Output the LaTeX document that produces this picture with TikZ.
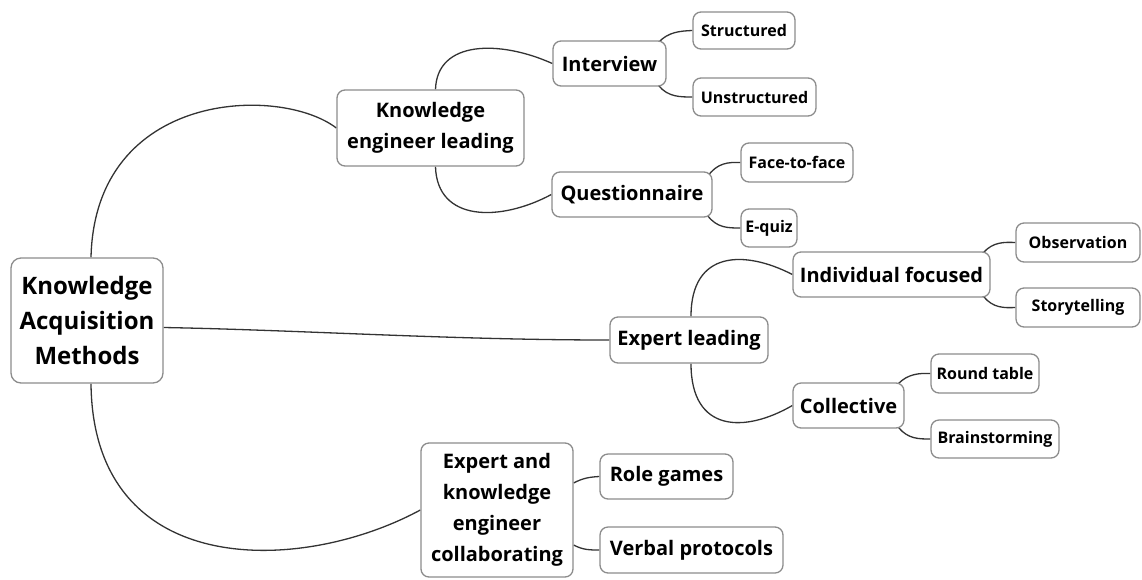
\documentclass[tikz,border=0pt]{standalone}
\usepackage{fontspec}
\setmainfont{Open Sans}
\usetikzlibrary{calc,backgrounds}
\definecolor{boxline}{HTML}{8C8C8C}
\definecolor{linkline}{HTML}{333333}
\tikzset{
 box/.style={draw=boxline, line width=1.3pt, rounded corners=8pt, fill=white, inner sep=0pt, align=center},
 rootbox/.style={box, font={\bfseries\fontsize{24}{35}\selectfont}, rounded corners=10pt},
 midbox/.style={box, font={\bfseries\fontsize{20}{31}\selectfont}},
 leafbox/.style={box, font={\bfseries\fontsize{16}{20}\selectfont}},
 link/.style={draw=linkline, line width=1.3pt},
}
\begin{document}
\begin{tikzpicture}[x=1pt,y=-1pt]
\useasboundingbox (0,0) rectangle (1142,579);
\node[rootbox, minimum width=152, minimum height=125] (root) at (87,320.5) {Knowledge\\Acquisition\\Methods};
\node[midbox, minimum width=187, minimum height=76] (kel) at (430.5,128) {Knowledge\\engineer leading};
\node[midbox, minimum width=113, minimum height=45] (interview) at (609.5,63.5) {Interview};
\node[leafbox, minimum width=102, minimum height=37] (structured) at (744,30.5) {Structured};
\node[leafbox, minimum width=123, minimum height=38] (unstructured) at (754.5,97) {Unstructured};
\node[midbox, minimum width=160, minimum height=45] (quest) at (632,194.5) {Questionnaire};
\node[leafbox, minimum width=112, minimum height=39] (face) at (797,162.5) {Face-to-face};
\node[leafbox, minimum width=56, minimum height=38] (equiz) at (769,228) {E-quiz};
\node[midbox, minimum width=158, minimum height=46] (expert) at (689,340) {Expert leading};
\node[midbox, minimum width=197, minimum height=45] (indiv) at (891.5,274.5) {Individual focused};
\node[leafbox, minimum width=124, minimum height=39] (obs) at (1078,242.5) {Observation};
\node[leafbox, minimum width=124, minimum height=39] (story) at (1078,307.5) {Storytelling};
\node[midbox, minimum width=111, minimum height=45] (coll) at (848.5,405.5) {Collective};
\node[leafbox, minimum width=108, minimum height=39] (round) at (985,373.5) {Round table};
\node[leafbox, minimum width=128, minimum height=38] (brain) at (995,439) {Brainstorming};
\node[midbox, minimum width=152, minimum height=134] (ecol) at (497,510) {Expert and\\knowledge\\engineer\\collaborating};
\node[midbox, minimum width=133, minimum height=45] (role) at (666.5,476.5) {Role games};
\node[midbox, minimum width=183, minimum height=46] (verbal) at (691.5,550) {Verbal protocols};
\begin{pgfonlayer}{background}
\draw[link] ($(root.north)+(4,0)$) .. controls (95,90) and (280,85) .. (kel.west);
\draw[link] ($(root.east)+(0,7)$) .. controls (300,330) and (450,340) .. (expert.west);
\draw[link] ($(root.south)+(4,0)$) .. controls (93,580) and (300,575) .. (ecol.west);
\draw[link] ($(kel.north)+(5,0)$) .. controls (437,40) and (500,40) .. (interview.west);
\draw[link] ($(kel.south)+(5,0)$) .. controls (437,222) and (500,222) .. (quest.west);
\draw[link] ($(interview.north east)+(-8,2)$) .. controls (668,32) and (680,31) .. (structured.west);
\draw[link] ($(interview.south east)+(-8,-1)$) .. controls (668,97) and (680,97) .. (unstructured.west);
\draw[link] ($(quest.north east)+(-5,5)$) .. controls (717,163) and (728,162) .. (face.west);
\draw[link] ($(quest.south east)+(-5,-2)$) .. controls (717,228) and (728,228) .. (equiz.west);
\draw[link] ($(expert.north)+(2,0)$) .. controls (691,250) and (745,250) .. (indiv.west);
\draw[link] ($(expert.south)+(2,0)$) .. controls (691,433) and (745,433) .. (coll.west);
\draw[link] ($(indiv.north east)+(-7,1)$) .. controls (993,242) and (1004,242) .. (obs.west);
\draw[link] ($(indiv.south east)+(-7,-1)$) .. controls (993,308) and (1004,308) .. (story.west);
\draw[link] ($(coll.north east)+(-6,1)$) .. controls (908,374) and (919,373) .. (round.west);
\draw[link] ($(coll.south east)+(-6,-1)$) .. controls (908,439) and (919,439) .. (brain.west);
\draw[link] ($(ecol.east)+(0,-27)$) .. controls (583,478) and (590,477) .. (role.west);
\draw[link] ($(ecol.east)+(0,35)$) .. controls (583,550) and (590,550) .. (verbal.west);
\end{pgfonlayer}
\end{tikzpicture}
\end{document}
